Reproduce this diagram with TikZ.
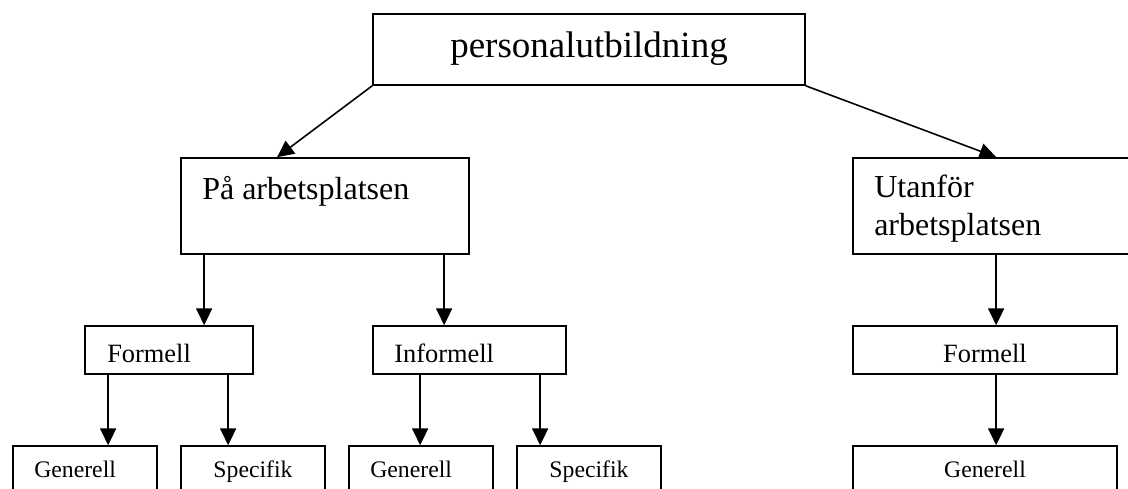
\documentclass[tikz,border=0pt]{standalone}
\usepackage{fontspec}
\setmainfont{Liberation Serif}
\usetikzlibrary{arrows.meta,calc,fit}
\begin{document}
\begin{tikzpicture}[x=0.75pt,y=-0.75pt,
  box/.style={draw, line width=1.3pt, inner sep=0pt, rectangle},
  arr/.style={line width=1.2pt, -{Triangle[length=12.5pt,width=12pt]}},
  lbl/.style={inner sep=0pt, anchor=base west},
  fA/.style={font=\fontsize{27.75}{33}\selectfont},
  fB/.style={font=\fontsize{24}{28.5}\selectfont},
  fC/.style={font=\fontsize{19.8}{23}\selectfont},
  fD/.style={font=\fontsize{17.8}{21}\selectfont}]
\useasboundingbox (0,0) rectangle (1128,489);
\clip (0,0) rectangle (1128,489);
% boxes
\node[box, fit={(373,14) (805,85)}] (top) {};
\node[box, fit={(181,158) (469,254)}] (pa) {};
\node[box, fit={(853,158) (1150,254)}] (ut) {};
\node[box, fit={(85,326) (253,374)}] (f1) {};
\node[box, fit={(373,326) (566,374)}] (inf) {};
\node[box, fit={(853,326) (1117,374)}] (f3) {};
\node[box, fit={(13,446) (157,530)}] (g1) {};
\node[box, fit={(181,446) (325,530)}] (s1) {};
\node[box, fit={(349,446) (493,530)}] (g2) {};
\node[box, fit={(517,446) (661,530)}] (s2) {};
\node[box, fit={(853,446) (1117,530)}] (g3) {};
% texts
\node[lbl, fA, anchor=base] (ttop) at (589,57) {personalutbildning};
\node[lbl, fB] (tpa) at (202,199) {På arbetsplatsen};
\node[lbl, fB, align=left] (tut) at (874,235) {Utanför\\arbetsplatsen};
\node[lbl, fC] (tf1) at (107,362) {Formell};
\node[lbl, fC] (tinf) at (394,362) {Informell};
\node[lbl, fC, anchor=base] (tf3) at (985,362) {Formell};
\node[lbl, fD] (tg1) at (34,477) {Generell};
\node[lbl, fD, anchor=base] (ts1) at (253,477) {Specifik};
\node[lbl, fD] (tg2) at (370,477) {Generell};
\node[lbl, fD, anchor=base] (ts2) at (589,477) {Specifik};
\node[lbl, fD, anchor=base] (tg3) at (985,477) {Generell};
% connectors
\draw[arr] (top.south west) -- ($(pa.north west)+(97,0)$);
\draw[arr] (top.south east) -- ($(ut.north west)+(144,0)$);
\draw[arr] ($(pa.south west)+(24,0)$) -- ($(f1.north west)+(120,0)$);
\draw[arr] ($(pa.south west)+(264,0)$) -- ($(inf.north west)+(72,0)$);
\draw[arr] ($(ut.south west)+(144,0)$) -- ($(f3.north west)+(144,0)$);
\draw[arr] ($(f1.south west)+(24,0)$) -- ($(g1.north west)+(96,0)$);
\draw[arr] ($(f1.south west)+(144,0)$) -- ($(s1.north west)+(48,0)$);
\draw[arr] ($(inf.south west)+(48,0)$) -- ($(g2.north west)+(72,0)$);
\draw[arr] ($(inf.south west)+(168,0)$) -- ($(s2.north west)+(24,0)$);
\draw[arr] ($(f3.south west)+(144,0)$) -- ($(g3.north west)+(144,0)$);
\end{tikzpicture}
\end{document}
